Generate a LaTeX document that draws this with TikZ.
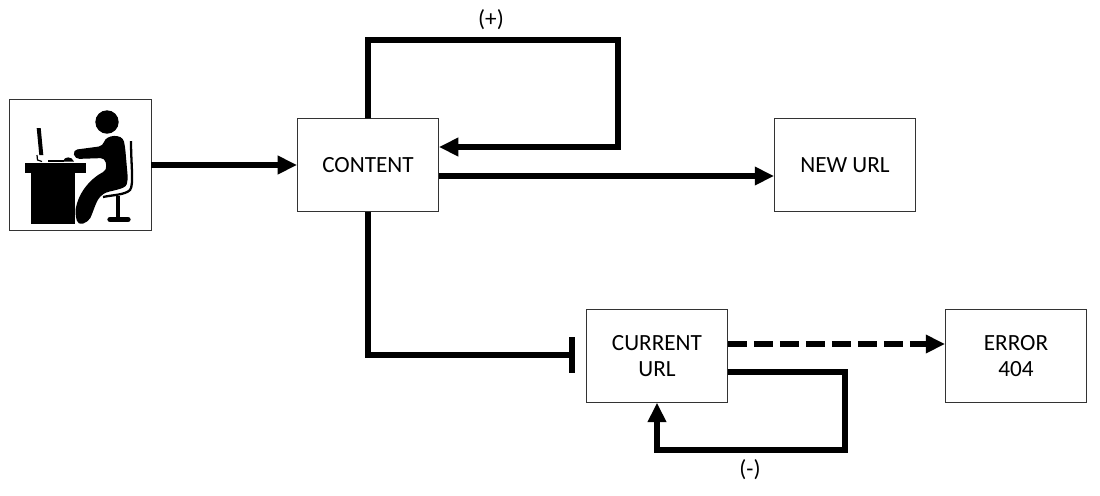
\documentclass[tikz,border=0pt]{standalone}
\usepackage{fontspec}
\setmainfont{Carlito}
\usepackage{tikz}
\usetikzlibrary{arrows.meta}

\begin{document}
\begin{tikzpicture}[x=0.02cm,y=-0.02cm,
    every node/.style={font=\fontsize{13.2}{15.3}\selectfont},
    urlbox/.style={draw=black!80,line width=0.5pt,fill=white,minimum width=2.82cm,minimum height=1.85cm,align=center,inner sep=0pt},
    link/.style={line width=3.4pt,-{Triangle[length=11pt,width=10pt]}},
    block/.style={line width=3.4pt,-{Bar[width=20pt,line width=3.4pt]}}]
  \useasboundingbox (0,0) rectangle (1100,495);
  % boxes
  \node[urlbox,minimum width=2.84cm,minimum height=2.63cm] (user) at (80,165) {};
  \node[urlbox] (content) at (368,165) {CONTENT};
  \node[urlbox] (newurl) at (845,165) {NEW URL};
  \node[urlbox] (current) at (657,356) {CURRENT\\URL};
  \node[urlbox] (error) at (1016,356) {ERROR\\404};
  % person at desk
  \fill (25,163) rectangle (86,173);
  \fill (31,173) rectangle (75,224);
  \fill (36.7,128) -- (40.7,128) -- (43.3,155) -- (39.3,155) -- cycle;
  \draw[line width=0.7pt] (37,155) -- (37.5,160) -- (42,161.5);
  \fill (48,159.5) rectangle (64,161.5);
  \fill (63,161.5) .. controls (64,156) and (72,156) .. (74,161.5) -- cycle;
  \fill (107,122) circle (11.7);
  \fill[rounded corners=2.5pt] (73,150) -- (103,146) .. controls (106,135) and (122,133) .. (125,146)
        -- (128,180) .. controls (125,190) and (110,190) .. (100,196)
        .. controls (95,205) and (92,215) .. (88,222) -- (78,225) -- (75,213)
        .. controls (78,195) and (88,180) .. (107,170) -- (105,158) -- (75,159) -- cycle;
  \draw[line width=1.3pt] (131,141) .. controls (131,165) and (134,185) .. (130,190) .. controls (125,195) and (112,195) .. (103,197);
  \draw[line width=2pt] (118,196) -- (118,218);
  \draw[line width=3pt,line cap=round] (110,219.5) -- (128,219.5);
  % arrows
  \draw[link] (user.east) -- (content.west);
  \coordinate (topleft) at (368,40);
  \coordinate (topright) at (618,40);
  \coordinate (backin) at (618,147);
  \draw[link] (content.north) -- (topleft) -- (topright) -- (backin) -- ([yshift=0.36cm]content.east);
  \draw[link] ([yshift=-0.22cm]content.east) -- ([yshift=-0.22cm]newurl.west);
  \coordinate (lowcorner) at (368,355);
  \draw[block] (content.south) -- (lowcorner) -- ([xshift=-0.22cm,yshift=0.02cm]current.west);
  \draw[link,dash pattern=on 10.8pt off 4pt] ([yshift=0.24cm]current.east) -- ([yshift=0.24cm]error.west);
  \coordinate (loopa) at (845,372);
  \coordinate (loopb) at (845,450);
  \coordinate (loopc) at (657,450);
  \draw[link] ([yshift=-0.32cm]current.east) -- (loopa) -- (loopb) -- (loopc) -- (current.south);
  % signs
  \node (plus) at (491,20) {(+)};
  \node (minus) at (750,470) {(-)};
\end{tikzpicture}
\end{document}
